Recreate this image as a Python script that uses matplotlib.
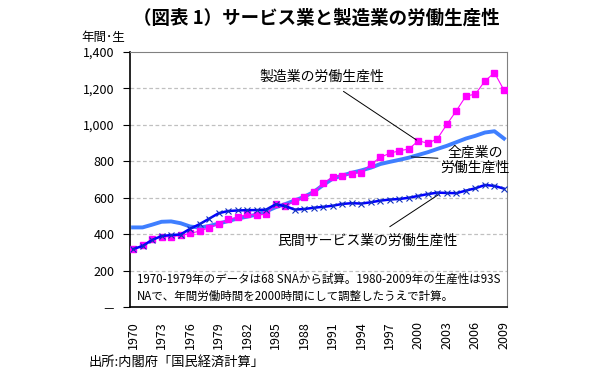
import matplotlib
matplotlib.use("Agg")
import matplotlib.pyplot as plt

plt.rcParams['font.family'] = ['Noto Sans CJK JP', 'DejaVu Sans']

# 年（1970-2009）
years = list(range(1970, 2010))

# 製造業の労働生産性
manufacturing = [318, 339, 372, 386, 386, 393, 404, 417, 435, 457,
                 481, 492, 509, 505, 509, 564, 554, 582, 602, 631,
                 679, 715, 721, 732, 737, 783, 822, 844, 858, 867,
                 913, 899, 924, 1003, 1078, 1158, 1169, 1241, 1286, 1191]

# 全産業の労働生産性
all_industry = [437, 437, 452, 468, 470, 460, 442, 436, 445, 458,
                472, 486, 496, 508, 525, 548, 565, 585, 605, 632,
                670, 705, 722, 737, 750, 765, 785, 797, 808, 820,
                835, 850, 868, 885, 905, 925, 940, 958, 965, 925]

# 民間サービス業の労働生産性
private_service = [318, 335, 368, 390, 395, 398, 430, 455, 485, 515,
                   527, 530, 532, 532, 535, 564, 554, 535, 538, 545,
                   550, 556, 566, 570, 568, 575, 584, 590, 593, 600,
                   610, 620, 628, 626, 625, 639, 652, 670, 665, 650]

year_ticks = list(range(1970, 2010, 3))
y_ticks = [0, 200, 400, 600, 800, 1000, 1200, 1400]
y_labels = ['－', '200', '400', '600', '800', '1,000', '1,200', '1,400']

fig = plt.figure(figsize=(6, 3.75), dpi=100)
ax = fig.add_axes([0.2167, 0.1813, 0.6283, 0.68])

ax.plot(years, all_industry, color='#3F7FFF', linewidth=2.8, zorder=2)
ax.plot(years, manufacturing, color='#FF00FF', linewidth=0.8,
        marker='s', markersize=5, zorder=3)
ax.plot(years, private_service, color='#0000FF', linewidth=1.8,
        marker='x', markersize=4, markeredgewidth=0.8,
        markeredgecolor='#1030C0', zorder=4)

ax.set_xlim(1969.68, 2009.32)
ax.set_ylim(0, 1400)
ax.set_yticks(y_ticks)
ax.set_yticklabels(y_labels, fontsize=9)
ax.set_xticks(year_ticks)
ax.set_xticklabels([str(y) for y in year_ticks], rotation=90, fontsize=9)
ax.tick_params(axis='x', length=0, pad=10)
ax.tick_params(axis='y', length=5, pad=6, direction='out')

for y in y_ticks[1:-1]:
    ax.axhline(y, color='#C0C0C0', linestyle=(0, (3, 2)), linewidth=0.9, zorder=1)

ax.spines['top'].set_color('#808080')
ax.spines['right'].set_color('#808080')
ax.spines['left'].set_linewidth(1.2)
ax.spines['bottom'].set_linewidth(1.2)

line_kw = dict(arrowstyle='-', color='black', linewidth=0.7)
ax.annotate('製造業の労働生産性', xy=(1999.8, 917), xytext=(1989.85, 1263),
            ha='center', va='center', fontsize=10,
            arrowprops=dict(line_kw, shrinkA=6, shrinkB=0))
ax.annotate('全産業の\n労働生産性', xy=(1999.25, 824), xytext=(2006.0, 807),
            ha='center', va='center', fontsize=10, linespacing=1.1,
            arrowprops=dict(line_kw, shrinkA=0, shrinkB=0))
ax.annotate('民間サービス業の労働生産性', xy=(2002.2, 620), xytext=(1994.7, 362),
            ha='center', va='center', fontsize=10,
            arrowprops=dict(line_kw, shrinkA=6, shrinkB=0))

ax.text(1970.4, 154, '1970-1979年のデータは68 SNAから試算。1980-2009年の生産性は93S',
        ha='left', va='center', fontsize=8.3)
ax.text(1970.4, 60, 'NAで、年間労働時間を2000時間にして調整したうえで計算。',
        ha='left', va='center', fontsize=8.3)

fig.text(0.528, 0.952, '（図表 1）サービス業と製造業の労働生産性',
         ha='center', va='center', fontsize=13.3, fontweight='bold')
fig.text(0.135, 0.899, '年間･生', ha='left', va='center', fontsize=9)
fig.text(0.148, 0.033, '出所:内閣府「国民経済計算」', ha='left', va='center', fontsize=9.5)

fig.savefig('out.png', dpi=100)
